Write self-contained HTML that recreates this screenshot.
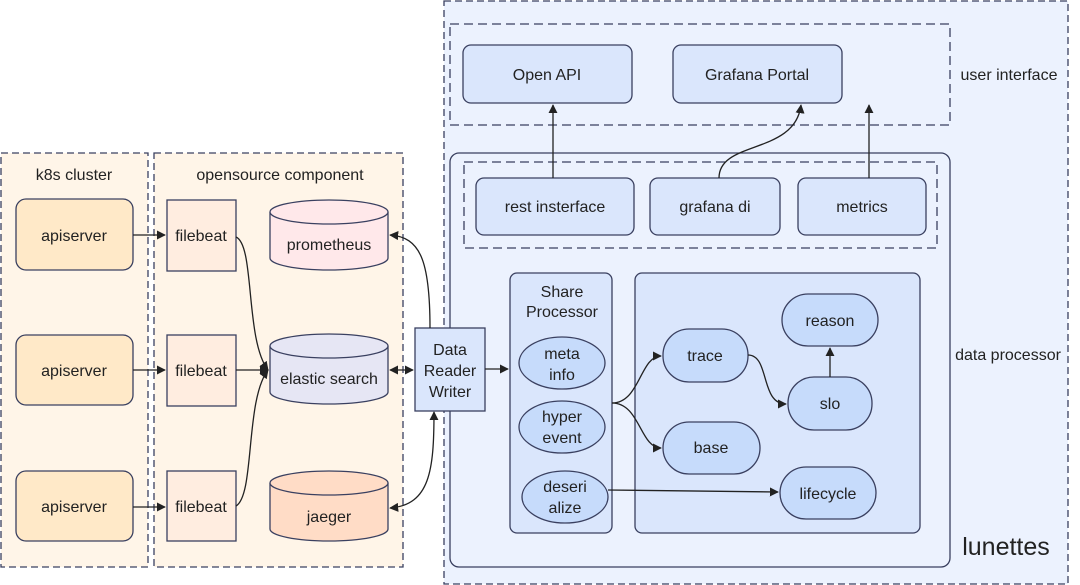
<!DOCTYPE html>
<html><head><meta charset="utf-8"><style>
html,body{margin:0;padding:0;background:#fff;width:1080px;height:585px;overflow:hidden}
svg text{font-family:"Liberation Sans","DejaVu Sans",sans-serif;fill:#222;font-size:16px;text-anchor:middle}
</style></head><body>
<svg width="1080" height="585" viewBox="0 0 1080 585" xmlns="http://www.w3.org/2000/svg">
<defs>
<marker id="a" viewBox="0 0 10 10" refX="9" refY="5" markerWidth="7" markerHeight="7" orient="auto-start-reverse"><path d="M0,0L10,5L0,10z" fill="#222"/></marker>
</defs>
<g stroke="#3a4060" stroke-width="1.3">
<rect x="1" y="153" width="147" height="414" fill="#fff5e8" stroke-dasharray="7,4"/>
<rect x="154" y="153" width="249" height="414" fill="#fff5e8" stroke-dasharray="7,4"/>
<rect x="444" y="1" width="624" height="583" fill="#ecf2fe" stroke-dasharray="7,4"/>
<rect x="450" y="24" width="500" height="101" fill="none" stroke-dasharray="9,5"/>
<rect x="463" y="45" width="169" height="58" rx="8" fill="#dae6fc"/>
<rect x="673" y="45" width="169" height="58" rx="8" fill="#dae6fc"/>
<rect x="450" y="153" width="500" height="414" rx="9" fill="#ecf2fe"/>
<rect x="464" y="162" width="473" height="86" fill="none" stroke-dasharray="9,5"/>
<rect x="476" y="178" width="158" height="57" rx="8" fill="#dae6fc"/>
<rect x="650" y="178" width="130" height="57" rx="8" fill="#dae6fc"/>
<rect x="798" y="178" width="128" height="57" rx="8" fill="#dae6fc"/>
<rect x="510" y="273" width="102" height="260" rx="7" fill="#dae6fc"/>
<rect x="635" y="273" width="285" height="260" rx="7" fill="#dae6fc"/>
<ellipse cx="562" cy="363" rx="43" ry="26" fill="#c6dbfb"/>
<ellipse cx="562" cy="427" rx="43" ry="26" fill="#c6dbfb"/>
<ellipse cx="565" cy="497" rx="43" ry="26" fill="#c6dbfb"/>
<rect x="663" y="329" width="85" height="53" rx="26" fill="#c6dbfb"/>
<rect x="663" y="422" width="97" height="52" rx="26" fill="#c6dbfb"/>
<rect x="782" y="294" width="96" height="52" rx="26" fill="#c6dbfb"/>
<rect x="788" y="377" width="84" height="53" rx="26" fill="#c6dbfb"/>
<rect x="780" y="467" width="96" height="52" rx="26" fill="#c6dbfb"/>
<rect x="16" y="199" width="117" height="71" rx="10" fill="#ffe9c8"/>
<rect x="16" y="335" width="117" height="70" rx="10" fill="#ffe9c8"/>
<rect x="16" y="471" width="117" height="70" rx="10" fill="#ffe9c8"/>
<rect x="167" y="200" width="69" height="71" fill="#ffede0"/>
<rect x="167" y="335" width="69" height="71" fill="#ffede0"/>
<rect x="167" y="471" width="69" height="70" fill="#ffede0"/>
<path d="M270,212 v46 a59,12 0 0 0 118,0 v-46" fill="#ffe8ea"/>
<ellipse cx="329" cy="212" rx="59" ry="12" fill="#ffe8ea"/>
<path d="M270,346 v46 a59,12 0 0 0 118,0 v-46" fill="#e6e6f4"/>
<ellipse cx="329" cy="346" rx="59" ry="12" fill="#e6e6f4"/>
<path d="M270,483 v46 a59,12 0 0 0 118,0 v-46" fill="#ffdcc6"/>
<ellipse cx="329" cy="483" rx="59" ry="12" fill="#ffdcc6"/>
<rect x="415" y="328" width="70" height="83" fill="#dae6fc"/>
</g>
<g stroke="#222" stroke-width="1.3" fill="none">
<line x1="133" y1="235" x2="165" y2="235" marker-end="url(#a)"/>
<line x1="133" y1="370" x2="165" y2="370" marker-end="url(#a)"/>
<line x1="133" y1="507" x2="165" y2="507" marker-end="url(#a)"/>
<path d="M236,237 C255,245 245,340 268,370" marker-end="url(#a)"/>
<line x1="236" y1="370" x2="268" y2="370" marker-end="url(#a)"/>
<path d="M236,506 C255,495 245,400 268,370" marker-end="url(#a)"/>
<line x1="390" y1="370" x2="413" y2="370" marker-start="url(#a)" marker-end="url(#a)"/>
<path d="M430,328 C430,260 420,237 390,235" marker-end="url(#a)"/>
<path d="M434,412 C434,470 430,505 390,508" marker-start="url(#a)" marker-end="url(#a)"/>
<line x1="485" y1="369" x2="508" y2="369" marker-end="url(#a)"/>
<line x1="553" y1="178" x2="553" y2="105" marker-end="url(#a)"/>
<path d="M719,178 C719,140 795,155 801,105" marker-end="url(#a)"/>
<line x1="869" y1="178" x2="869" y2="105" marker-end="url(#a)"/>
<path d="M612,403 C640,403 640,356 661,356" marker-end="url(#a)"/>
<path d="M612,403 C640,403 640,448 661,448" marker-end="url(#a)"/>
<path d="M748,355 C770,355 760,404 786,404" marker-end="url(#a)"/>
<line x1="830" y1="377" x2="830" y2="348" marker-end="url(#a)"/>
<line x1="608" y1="490" x2="778" y2="492" marker-end="url(#a)"/>
</g>
<text x="74" y="180">k8s cluster</text>
<text x="280" y="180">opensource component</text>
<text x="74" y="241">apiserver</text>
<text x="74" y="376">apiserver</text>
<text x="74" y="512">apiserver</text>
<text x="201" y="241">filebeat</text>
<text x="201" y="376">filebeat</text>
<text x="201" y="512">filebeat</text>
<text x="329" y="250">prometheus</text>
<text x="329" y="384">elastic search</text>
<text x="329" y="522">jaeger</text>
<text x="450" y="355">Data</text>
<text x="450" y="376">Reader</text>
<text x="450" y="397">Writer</text>
<text x="547" y="80">Open API</text>
<text x="757" y="80">Grafana Portal</text>
<text x="1009" y="80">user interface</text>
<text x="555" y="212">rest insterface</text>
<text x="715" y="212">grafana di</text>
<text x="862" y="212">metrics</text>
<text x="1008" y="360">data processor</text>
<text x="1006" y="555" style="font-size:25px">lunettes</text>
<text x="562" y="297">Share</text>
<text x="562" y="317">Processor</text>
<text x="562" y="359">meta</text>
<text x="562" y="380">info</text>
<text x="562" y="422">hyper</text>
<text x="562" y="443">event</text>
<text x="565" y="492">deseri</text>
<text x="565" y="513">alize</text>
<text x="705" y="361">trace</text>
<text x="711" y="453">base</text>
<text x="830" y="326">reason</text>
<text x="830" y="409">slo</text>
<text x="828" y="499">lifecycle</text>
</svg>
</body></html>
